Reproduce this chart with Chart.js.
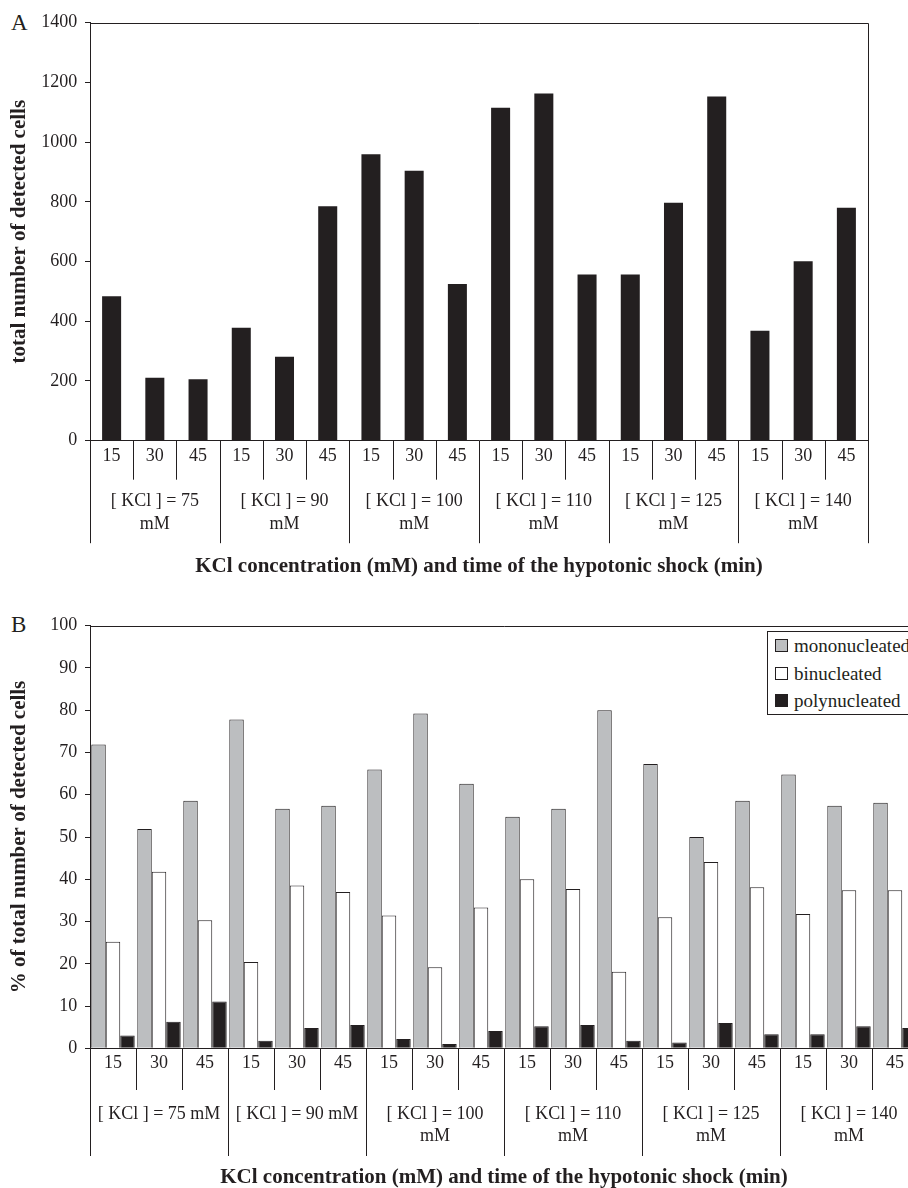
<!DOCTYPE html>
<html>
<head>
<meta charset="utf-8">
<script src="https://cdn.jsdelivr.net/npm/chart.js@4"></script>
<style>
  html, body { margin: 0; padding: 0; background: #fff; }
  body { width: 908px; height: 1188px; overflow: hidden; position: relative; font-family: 'Liberation Serif', 'Times New Roman', serif; color: #231f20; }
  .panel { position: absolute; left: 0; overflow: hidden; }
  .tag { position: absolute; font-size: 23px; line-height: 23px; }
  #legendB { position: absolute; left: 767px; top: 631px; width: 170px; height: 82px; border: 1px solid #231f20; background: #fff; font-size: 19px; }
  #legendB .row { height: 27.5px; line-height: 27.5px; display: flex; align-items: center; padding-left: 7px; }
  #legendB .sw { width: 11px; height: 11px; border: 1px solid #231f20; margin-right: 6px; box-sizing: content-box; }
</style>
</head>
<body>
<div class="tag" style="left:11px; top:11px;">A</div>
<div class="panel" style="top:0; width:908px; height:590px;">
  <canvas id="chartA" width="908" height="590"></canvas>
</div>

<div class="tag" style="left:11px; top:613px;">B</div>
<div class="panel" style="top:590px; width:908px; height:598px;">
  <canvas id="chartB" width="950" height="610"></canvas>
</div>
<div id="legendB"></div>

<script>
// data
const times = ['15', '30', '45'];
const concs = ['75', '90', '100', '110', '125', '140'];

// panel A: total number of detected cells
const totalCells = [484, 211, 206, 378, 281, 785, 959, 904, 525, 1115, 1163, 557, 557, 797, 1153, 368, 601, 780];

// panel B: % of total number of detected cells
const mono = [71.9, 51.9, 58.6, 77.8, 56.7, 57.4, 66.0, 79.2, 62.6, 54.8, 56.7, 80.0, 67.3, 50.0, 58.6, 64.8, 57.4, 58.1];
const bi = [25.2, 41.8, 30.3, 20.4, 38.5, 37.0, 31.4, 19.2, 33.3, 40.0, 37.7, 18.1, 31.0, 44.1, 38.1, 31.8, 37.4, 37.4];
const poly = [3.0, 6.3, 11.1, 1.8, 4.8, 5.5, 2.2, 1.0, 4.1, 5.2, 5.5, 1.8, 1.4, 6.0, 3.3, 3.3, 5.2, 4.8];

// group labels, wrapped as in each panel
const groupLabelsA = concs.map(c => [`[ KCl ] = ${c}`, 'mM']);
const groupLabelsB = concs.map(c => (c.length < 3 ? [`[ KCl ] = ${c} mM`] : [`[ KCl ] = ${c}`, 'mM']));

const xTitle = 'KCl concentration (mM) and time of the hypotonic shock (min)';
const INK = '#231f20';
const GREY = '#bcbec0';
const FONT = "'Liberation Serif', 'Times New Roman', serif";

const minorLabels = [];
concs.forEach(() => times.forEach(t => minorLabels.push(t)));

Chart.defaults.font.family = FONT;
Chart.defaults.font.size = 18;
Chart.defaults.color = INK;

// draws plot frame, category separators and group labels under the x axis
const groupAxis = {
  id: 'groupAxis',
  afterDraw(chart, args, o) {
    const { ctx, chartArea: a, scales: { x } } = chart;
    const n = minorLabels.length;
    ctx.save();
    ctx.strokeStyle = INK;
    ctx.lineWidth = 1;

    ctx.beginPath();
    ctx.moveTo(a.left, Math.round(a.top) + 0.5);
    ctx.lineTo(Math.round(a.right) + 0.5, Math.round(a.top) + 0.5);
    ctx.lineTo(Math.round(a.right) + 0.5, a.bottom);
    ctx.stroke();

    for (let i = 0; i <= n; i++) {
      const px = Math.round(x.getPixelForValue(i - 0.5)) + 0.5;
      const len = i % times.length === 0 ? o.groupLen : o.minorLen;
      ctx.beginPath();
      ctx.moveTo(px, a.bottom);
      ctx.lineTo(px, a.bottom + len);
      ctx.stroke();
    }

    ctx.fillStyle = INK;
    ctx.font = `18px ${FONT}`;
    ctx.textAlign = 'center';
    ctx.textBaseline = 'middle';
    o.groups.forEach((lines, g) => {
      const cx = x.getPixelForValue(g * times.length + (times.length - 1) / 2);
      lines.forEach((t, k) => ctx.fillText(t, cx, a.bottom + o.labelY + k * o.lineGap));
    });
    ctx.restore();
  }
};

function makeScales(yMax, yStep, yTitle, xHeight, titlePad) {
  return {
    x: {
      type: 'category',
      grid: { display: false, drawTicks: false, tickLength: 0 },
      border: { display: true, color: INK, width: 1 },
      ticks: { autoSkip: false, maxRotation: 0, padding: 4.5, color: INK },
      title: { display: true, text: xTitle, color: INK, font: { size: 21, weight: 'bold' }, padding: { top: 0, bottom: titlePad } },
      afterFit: s => { s.height = xHeight; }
    },
    y: {
      min: 0,
      max: yMax,
      ticks: { stepSize: yStep, padding: 7.7, color: INK, callback: v => String(v) },
      grid: { drawOnChartArea: false, tickLength: 5, color: INK },
      border: { display: true, color: INK, width: 1 },
      title: { display: true, text: yTitle, color: INK, font: { size: 21, weight: 'bold' }, padding: { top: 7.4, bottom: 0 } },
      afterFit: s => { s.width = 90; }
    }
  };
}

// Panel A
new Chart(document.getElementById('chartA'), {
  type: 'bar',
  data: {
    labels: minorLabels,
    datasets: [{
      label: 'total',
      data: totalCells,
      backgroundColor: INK,
      borderWidth: 0,
      categoryPercentage: 1,
      barPercentage: 0.44
    }]
  },
  options: {
    responsive: false,
    animation: false,
    layout: { padding: { left: 0, top: 22.7, right: 40, bottom: 9.3 } },
    scales: makeScales(1400, 200, 'total number of detected cells', 140, 1.4),
    plugins: {
      legend: { display: false },
      tooltip: { enabled: false },
      groupAxis: { groups: groupLabelsA, minorLen: 39, groupLen: 102.5, labelY: 61, lineGap: 23 }
    }
  },
  plugins: [groupAxis]
});

// Panel B
const seriesB = [
  { label: 'mononucleated', data: mono, color: GREY },
  { label: 'binucleated', data: bi, color: '#ffffff' },
  { label: 'polynucleated', data: poly, color: INK }
];

new Chart(document.getElementById('chartB'), {
  type: 'bar',
  data: {
    labels: minorLabels,
    datasets: seriesB.map(s => ({
      label: s.label,
      data: s.data,
      backgroundColor: s.color,
      borderColor: INK,
      borderWidth: 1,
      categoryPercentage: 0.944,
      barPercentage: 1
    }))
  },
  options: {
    responsive: false,
    animation: false,
    layout: { padding: { left: 0, top: 35.7, right: 32, bottom: 1.7 } },
    scales: makeScales(100, 10, '% of total number of detected cells', 150, 7.7),
    plugins: {
      legend: { display: false },
      tooltip: { enabled: false },
      groupAxis: { groups: groupLabelsB, minorLen: 41.7, groupLen: 107.7, labelY: 66, lineGap: 21.5 }
    }
  },
  plugins: [groupAxis]
});

// legend for panel B
const legendB = document.getElementById('legendB');
seriesB.forEach(s => {
  const row = document.createElement('div');
  row.className = 'row';
  row.innerHTML = `<span class="sw" style="background:${s.color}"></span><span>${s.label}</span>`;
  legendB.appendChild(row);
});
</script>
</body>
</html>
